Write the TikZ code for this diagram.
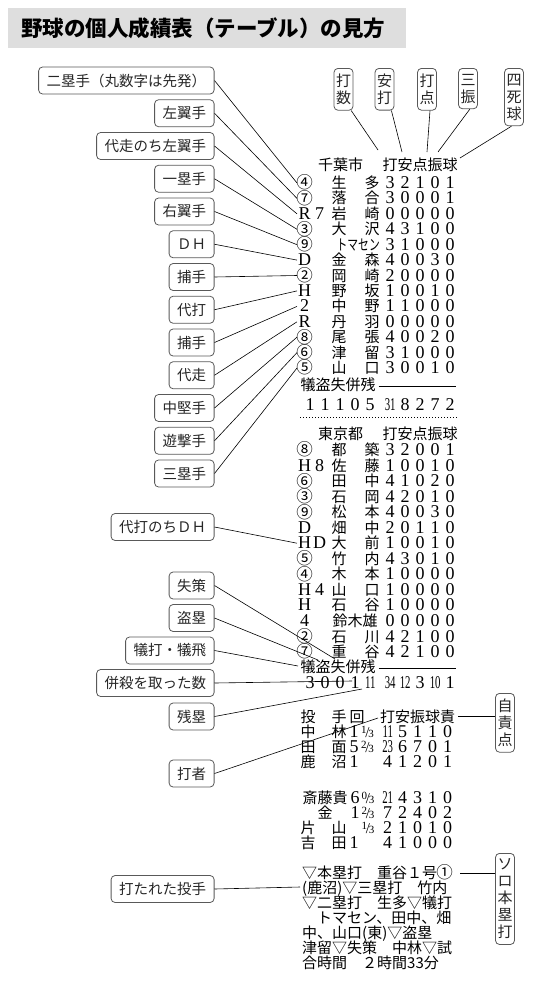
\documentclass[tikz,border=0pt]{standalone}
\usepackage{fontspec}
\usepackage{graphicx}
\setmainfont{Liberation Serif}
\newfontfamily\jp{Noto Sans CJK JP}
\newfontfamily\dgf{Liberation Serif}
\newcommand\dg[1]{\makebox[15pt]{\dgf\fontsize{18}{18}\selectfont #1}}
\newcommand\ddg[1]{{\dgf\fontsize{18}{18}\selectfont #1}}
\newcommand\dd[1]{\makebox[15pt]{\dgf\fontsize{18}{18}\selectfont\scalebox{0.6}[1]{#1}}}
\def\digs#1{\ifx#1\relax\else\dg{#1}\expandafter\digs\fi}
\newcommand\frc[2]{{\dgf\raisebox{4.5pt}{\fontsize{11}{11}\selectfont #1}\kern-1.2pt{\fontsize{15}{15}\selectfont /}\kern-1.2pt{\fontsize{11}{11}\selectfont #2}}}
\newcommand\cn[1]{\makebox[15pt]{\raisebox{-0.4pt}{\scalebox{1.1}{#1}}}}
\tikzset{
  tb/.style={inner sep=0pt, font=\jp\fontsize{15}{15}\selectfont, anchor=base west},
  lab/.style={draw=black!65, rounded corners=4pt, line width=0.8pt, inner xsep=8pt, inner ysep=0pt,
    minimum height=27pt, font=\jp\fontsize{14.5}{14.5}\selectfont, text=black!85, anchor=east},
  vlab/.style={draw=black!65, rounded corners=4pt, line width=0.8pt, inner xsep=2pt, inner ysep=5.5pt,
    align=center, font=\jp\fontsize{15}{17}\selectfont, text=black!85, anchor=north, text width=15pt},
  con/.style={line width=0.6pt},
  rule/.style={line width=0.8pt}
}
\newcommand\crow[6]{%
  \coordinate (#1) at (297,#2);
  \node[tb] (#1m) at (297,#2+5.5) {#3};
  \node[tb,anchor=base] (#1f) at (339,#2+5.5) {#4};
  \node[tb,anchor=base] (#1l) at (372,#2+5.5) {#5};
  \node[tb] (#1s) at (382.5,#2+5.5) {\digs#6\relax};
}
\begin{document}
\begin{tikzpicture}[x=1pt,y=-1pt]
\useasboundingbox (0,0) rectangle (538,988);
% title
\node[fill=black!13, minimum width=398pt, minimum height=40pt, anchor=north west, inner sep=0pt] (tbox) at (8,8) {};
\node[anchor=west, inner sep=0pt, font=\jp\bfseries\fontsize{21.5}{21.5}\selectfont] (title) at (21,28) {野球の個人成績表（テーブル）の見方};

% top vertical labels
\node[vlab] (kd) at (343.5,68) {打\\数};
\node[vlab] (ah) at (384.5,68) {安\\打};
\node[vlab] (dt) at (427,68) {打\\点};
\node[vlab] (sk) at (468,68) {三\\振};
\node[vlab] (sb4) at (514,68) {四\\死\\球};
\coordinate (h1) at (378,150);
\coordinate (h2) at (402,152);
\coordinate (h3) at (427,152);
\coordinate (h4) at (438,152);
\coordinate (h5) at (460,158);
\draw[con] (kd.-70) -- (h1);
\draw[con] (ah.-72) -- (h2);
\draw[con] (dt.-82) -- (h3);
\draw[con] (sk.-85) -- (h4);
\draw[con] (sb4.-95) -- (h5);

% Chiba
\node[tb] (chiba) at (318,170.5) {千葉市};
\node[tb] (chh) at (382.5,170.5) {打安点振球};
\crow{c1}{183.0}{\cn{④}}{生}{多}{32101}
\crow{c2}{198.4}{\cn{⑦}}{落}{合}{30001}
\crow{c3}{213.8}{\dg{R}\dg{7}}{岩}{崎}{00000}
\crow{c4}{229.3}{\cn{③}}{大}{沢}{43100}
\crow{c5}{244.7}{\cn{⑨}}{}{}{31000}
\node[tb,anchor=base east] (c5n) at (380,250.2) {\scalebox{0.72}[1]{トマセン}};
\crow{c6}{260.1}{\dg{D}}{金}{森}{40030}
\crow{c7}{275.5}{\cn{②}}{岡}{崎}{20000}
\crow{c8}{290.9}{\dg{H}}{野}{坂}{10010}
\crow{c9}{306.4}{\dg{2}}{中}{野}{11000}
\crow{c10}{321.8}{\dg{R}}{丹}{羽}{00000}
\crow{c11}{337.2}{\cn{⑧}}{尾}{張}{40020}
\crow{c12}{352.6}{\cn{⑥}}{津}{留}{31000}
\crow{c13}{368.0}{\cn{⑤}}{山}{口}{30010}
\node[tb] (ct) at (300.5,390.5) {犠盗失併残};
\draw[rule] (378.5,386.5) -- (456,386.5);
\node[tb] (ctot1) at (302.5,410.5) {\digs11105\relax};
\node[tb] (ctot2) at (382.5,410.5) {\dd{31}\digs8272\relax};

% Chiba labels
\node[lab] (L1) at (214.5,80.5) {二塁手（丸数字は先発）};
\node[lab] (L2) at (214.5,113.25) {左翼手};
\node[lab] (L3) at (214.5,146) {代走のち左翼手};
\node[lab] (L4) at (214.5,178.75) {一塁手};
\node[lab] (L5) at (214.5,211.5) {右翼手};
\node[lab] (L6) at (214.5,244.25) {ＤＨ};
\node[lab] (L7) at (214.5,277) {捕手};
\node[lab] (L8) at (214.5,309.75) {代打};
\node[lab] (L9) at (214.5,342.5) {捕手};
\node[lab] (L10) at (214.5,375.25) {代走};
\node[lab] (L11) at (214.5,408) {中堅手};
\node[lab] (L12) at (214.5,440.75) {遊撃手};
\node[lab] (L13) at (214.5,473.5) {三塁手};
\foreach \i in {1,...,13} { \draw[con] (L\i.east) -- (c\i); }

% separator
\draw[dotted, line width=1pt] (300,417) -- (458,417);

% Tokyo
\node[tb] (tokyo) at (318,439.5) {東京都};
\node[tb] (tkh) at (382.5,439.5) {打安点振球};
\crow{t1}{450.0}{\cn{⑧}}{都}{築}{32001}
\crow{t2}{465.5}{\dg{H}\dg{8}}{佐}{藤}{10010}
\crow{t3}{481.1}{\cn{⑥}}{田}{中}{41020}
\crow{t4}{496.6}{\cn{③}}{石}{岡}{42010}
\crow{t5}{512.2}{\cn{⑨}}{松}{本}{40030}
\crow{t6}{527.7}{\dg{D}}{畑}{中}{20110}
\crow{t7}{543.2}{\dg{H}\dg{D}}{大}{前}{10010}
\crow{t8}{558.8}{\cn{⑤}}{竹}{内}{43010}
\crow{t9}{574.3}{\cn{④}}{木}{本}{10000}
\crow{t10}{589.9}{\dg{H}\dg{4}}{山}{口}{10000}
\crow{t11}{605.4}{\dg{H}}{石}{谷}{10000}
\crow{t12}{620.9}{\dg{4}}{}{}{00000}
\node[tb,anchor=base] (t12n) at (355,626.4) {鈴木雄};
\crow{t13}{636.5}{\cn{②}}{石}{川}{42100}
\crow{t14}{652.0}{\cn{⑦}}{重}{谷}{42100}
\node[tb] (tt) at (300.5,672.5) {犠盗失併残};
\draw[rule] (378.5,668.5) -- (456,668.5);
\node[tb] (ttot1) at (302.5,688.5) {\digs3001\relax\dd{11}};
\node[tb] (ttot2) at (382.5,688.5) {\dd{34}\dd{12}\dg{3}\dd{10}\dg{1}};

% Tokyo labels
\node[lab] (M1) at (214.5,527) {代打のちＤＨ};
\draw[con] (M1.east) -- (t7);
\node[lab] (M2) at (214.5,585.5) {失策};
\node[lab] (M3) at (214.5,618) {盗塁};
\node[lab] (M4) at (214.5,650.5) {犠打・犠飛};
\node[lab] (M5) at (214.5,683) {併殺を取った数};
\node[lab] (M6) at (214.5,716.5) {残塁};
\node[lab] (M7) at (214.5,773.5) {打者};
\node[lab] (M8) at (214.5,889) {打たれた投手};
\coordinate (e1) at (335,659);
\coordinate (e2) at (318,660);
\coordinate (e3) at (298,666);
\coordinate (e4) at (352,681);
\coordinate (e5) at (362,689);
\coordinate (e6) at (378,718);
\coordinate (e7) at (300,887);
\draw[con] (M2.east) -- (e1);
\draw[con] (M3.east) -- (e2);
\draw[con] (M4.east) -- (e3);
\draw[con] (M5.east) -- (e4);
\draw[con] (M6.east) -- (e5);
\draw[con] (M7.east) -- (e6);
\draw[con] (M8.east) -- (e7);

% pitching
\node[tb,anchor=base] (ph1) at (308,722.5) {投};
\node[tb,anchor=base] (ph2) at (339,722.5) {手};
\node[tb,anchor=base] (ph3) at (357,722.5) {回};
\node[tb] (ph4) at (380,722.5) {打安振球責};
\node[vlab] (jk) at (505,693) {自\\責\\点};
\coordinate (p5) at (458,716);
\draw[con] (p5) -- (p5 -| jk.west);

\node[tb,anchor=base] (p1a) at (308,737.5) {中};
\node[tb,anchor=base] (p1b) at (339,737.5) {林};
\node[tb,anchor=base] (p1c) at (354,737.5) {\ddg{1}};
\node[tb,anchor=base] (p1e) at (367.5,737.5) {\frc{1}{3}};
\node[tb] (p1d) at (380,737.5) {\dd{11}\digs5110\relax};

\node[tb,anchor=base] (p2a) at (308,752.5) {田};
\node[tb,anchor=base] (p2b) at (339,752.5) {面};
\node[tb,anchor=base] (p2c) at (354,752.5) {\ddg{5}};
\node[tb,anchor=base] (p2e) at (367.5,752.5) {\frc{2}{3}};
\node[tb] (p2d) at (380,752.5) {\dd{23}\digs6701\relax};

\node[tb,anchor=base] (p3a) at (308,767.5) {鹿};
\node[tb,anchor=base] (p3b) at (339,767.5) {沼};
\node[tb,anchor=base] (p3c) at (354,767.5) {\ddg{1}};
\node[tb] (p3d) at (380,767.5) {\digs41201\relax};

\node[tb,anchor=base] (p4a) at (325,803.5) {斎藤貴};
\node[tb,anchor=base] (p4c) at (355,803.5) {\ddg{6}};
\node[tb,anchor=base] (p4e) at (368,803.5) {\frc{0}{3}};
\node[tb] (p4d) at (380,803.5) {\dd{21}\digs4310\relax};

\node[tb,anchor=base] (p5a) at (325,818.5) {金};
\node[tb,anchor=base] (p5c) at (355,818.5) {\ddg{1}};
\node[tb,anchor=base] (p5e) at (368,818.5) {\frc{2}{3}};
\node[tb] (p5d) at (380,818.5) {\digs72402\relax};

\node[tb,anchor=base] (p6a) at (308,833.5) {片};
\node[tb,anchor=base] (p6b) at (339,833.5) {山};
\node[tb,anchor=base] (p6e) at (368,833.5) {\frc{1}{3}};
\node[tb] (p6d) at (380,833.5) {\digs21010\relax};

\node[tb,anchor=base] (p7a) at (308,848.5) {吉};
\node[tb,anchor=base] (p7b) at (339,848.5) {田};
\node[tb,anchor=base] (p7c) at (354,848.5) {\ddg{1}};
\node[tb] (p7d) at (380,848.5) {\digs41000\relax};

% notes
\node[tb] (n1) at (302,878.5) {▽本塁打　重谷１号\cn{①}};
\node[tb] (n2) at (302,893.5) {(鹿沼)▽三塁打　竹内};
\node[tb] (n3) at (302,908.5) {▽二塁打　生多▽犠打};
\node[tb] (n4) at (302,923.5) {　トマセン、田中、畑};
\node[tb] (n5) at (302,938.5) {中、山口(東)▽盗塁};
\node[tb] (n6) at (302,953.5) {津留▽失策　中林▽試};
\node[tb] (n7) at (302,968.5) {合時間　２時間33分};
\node[vlab] (so) at (505,853) {ソ\\ロ\\本\\塁\\打};
\coordinate (s5) at (460,873);
\draw[con] (s5) -- (s5 -| so.west);
\end{tikzpicture}
\end{document}
